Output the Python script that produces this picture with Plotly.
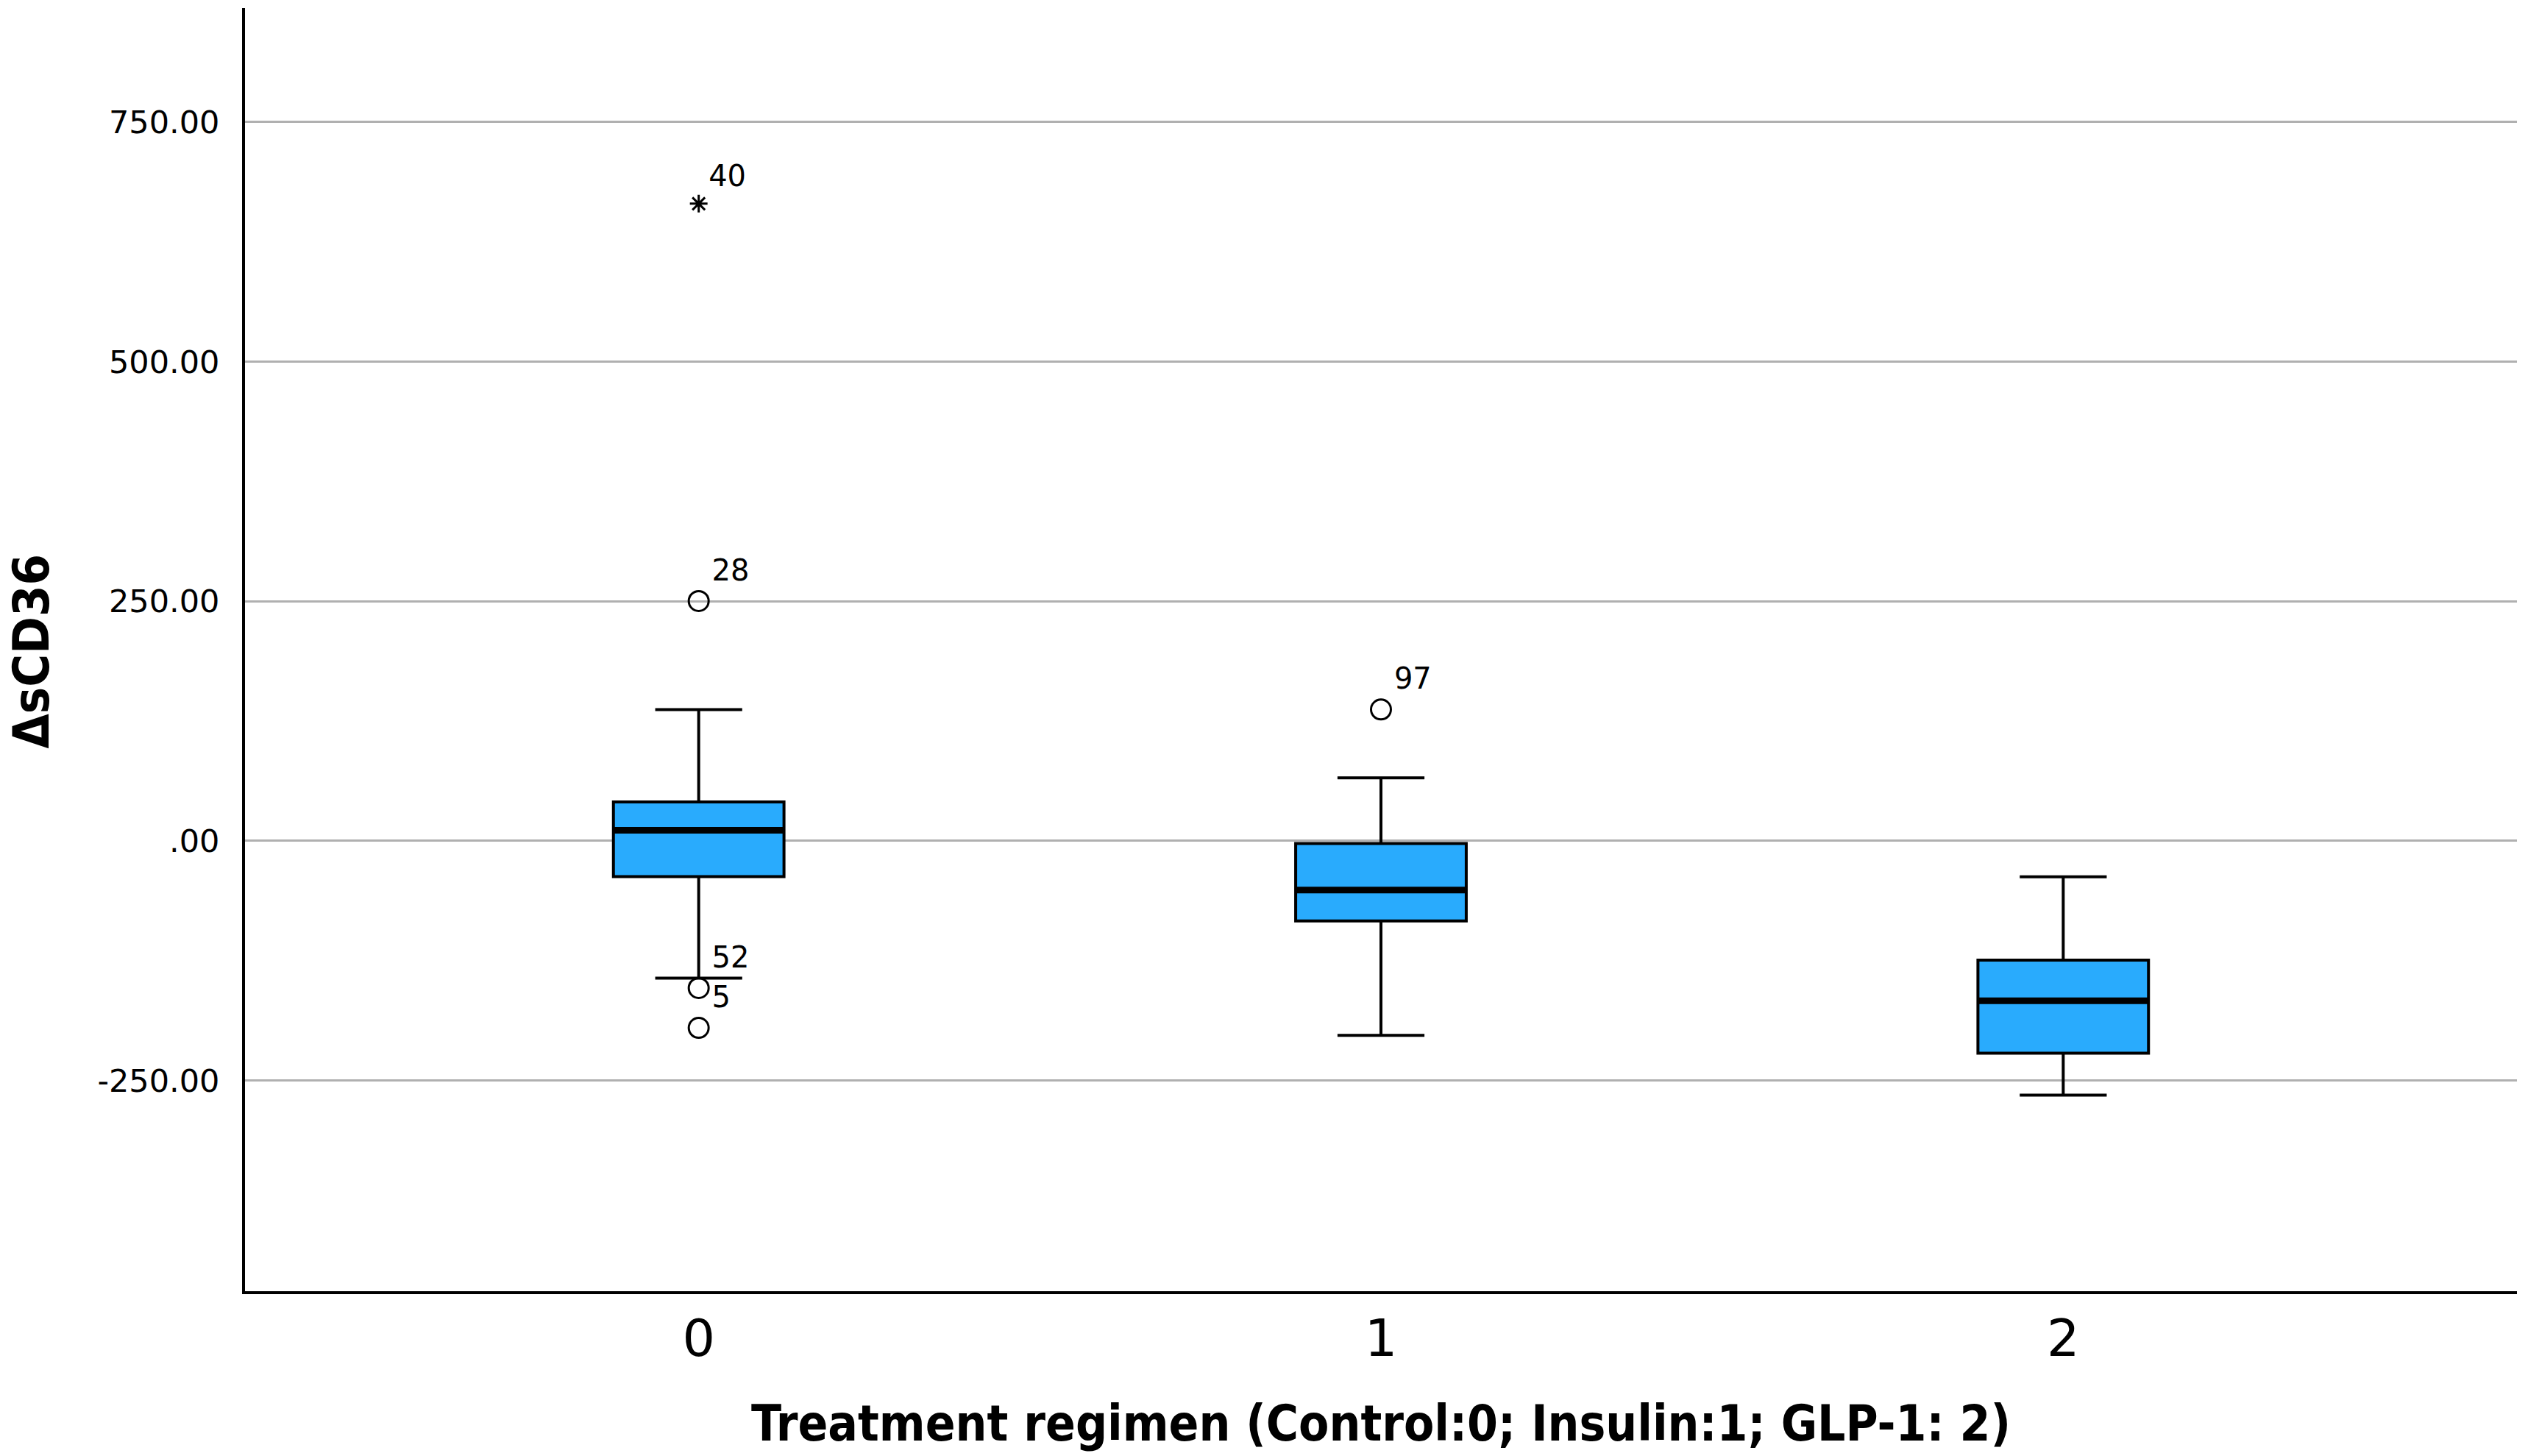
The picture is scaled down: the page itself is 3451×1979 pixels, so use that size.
import plotly.graph_objects as go

# group summaries
groups = [0, 1, 2]
q1 = [-37.4, -83.7, -221.6]
medians = [11.0, -51.4, -166.9]
q3 = [40.6, -2.9, -124.5]
lower_whisker = [-143.3, -203.0, -265.3]
upper_whisker = [137.0, 65.7, -37.6]

# outliers (circle) and extremes (star), with case numbers
outlier_x = [0, 0, 0, 1]
outlier_y = [250.2, -153.6, -195.2, 137.1]
outlier_ids = ["28", "52", "5", "97"]
extreme_x = [0]
extreme_y = [664.9]
extreme_ids = ["40"]

ytick_vals = [-250, 0, 250, 500, 750]
ytick_text = ["-250.00", ".00", "250.00", "500.00", "750.00"]

box_w = 0.25
font_fam = "DejaVu Sans, sans-serif"
bold_fam = "DejaVu Sans Condensed, Liberation Sans Narrow, DejaVu Sans, sans-serif"

fig = go.Figure()
fig.add_trace(go.Box(
    x=groups, q1=q1, median=medians, q3=q3,
    lowerfence=lower_whisker, upperfence=upper_whisker,
    width=box_w, whiskerwidth=0.51,
    fillcolor="#29abfd", line=dict(color="black", width=4),
    boxpoints=False, showlegend=False, hoverinfo="skip"))

# thicker median bars, drawn across each box
mx, my = [], []
for g, m in zip(groups, medians):
    mx += [g - box_w / 2, g + box_w / 2, None]
    my += [m, m, None]
fig.add_trace(go.Scatter(x=mx, y=my, mode="lines",
                         line=dict(color="black", width=9),
                         showlegend=False, hoverinfo="skip"))

fig.add_trace(go.Scatter(
    x=outlier_x, y=outlier_y, mode="markers+text", text=outlier_ids,
    textposition="top right",
    textfont=dict(family=font_fam, size=40, color="black"),
    marker=dict(symbol="circle-open", size=27, color="black", line=dict(width=3)),
    showlegend=False))
fig.add_trace(go.Scatter(
    x=extreme_x, y=extreme_y, mode="markers+text", text=extreme_ids,
    textposition="top right",
    textfont=dict(family=font_fam, size=40, color="black"),
    marker=dict(symbol="asterisk-open", size=20, color="black", line=dict(width=3, color="black")),
    showlegend=False))

fig.update_layout(
    width=3451, height=1979,
    margin=dict(l=325, r=38, t=3, b=232),
    paper_bgcolor="white", plot_bgcolor="white",
    font=dict(family=font_fam, color="black"),
)
fig.update_xaxes(
    range=[-0.665, 2.665], tickvals=groups, ticktext=[str(g) for g in groups],
    tickfont=dict(size=70, family=font_fam), ticks="", ticklabelstandoff=0,
    showline=True, linecolor="black", linewidth=4, showgrid=False, zeroline=False,
    automargin=False,
    title=dict(text="<b>Treatment regimen (Control:0; Insulin:1; GLP-1: 2)</b>",
               font=dict(size=67, family=bold_fam), standoff=53),
)
fig.update_yaxes(
    range=[-470, 869], tickvals=ytick_vals, ticktext=ytick_text,
    tickfont=dict(size=43, family=font_fam), ticks="", ticklabelstandoff=22,
    showline=True, linecolor="black", linewidth=4,
    showgrid=True, gridcolor="#b0b0b0", gridwidth=3, zeroline=False,
    automargin=False,
)

# y title as a rotated annotation so it can sit right at the left edge
fig.add_annotation(
    text="<b>ΔsCD36</b>", textangle=-90, showarrow=False,
    xref="paper", yref="paper", x=0, y=0.5, xanchor="left", yanchor="middle",
    xshift=-332, yshift=-2, borderpad=0,
    font=dict(size=68, family=bold_fam, color="black"),
)

fig.write_html("out.html")
